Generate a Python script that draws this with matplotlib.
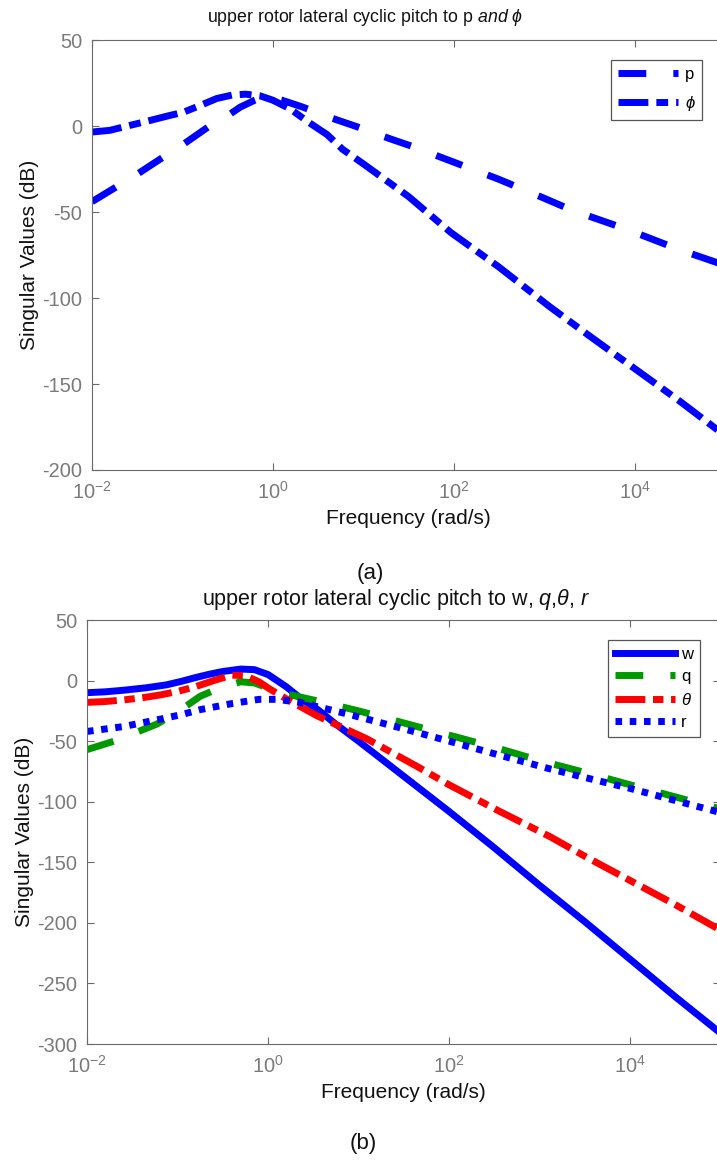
import matplotlib
matplotlib.use('Agg')
import matplotlib.pyplot as plt
import numpy as np

plt.rcParams['font.family'] = ['Liberation Sans', 'DejaVu Sans']
plt.rcParams['mathtext.fontset'] = 'custom'
plt.rcParams['mathtext.rm'] = 'Liberation Sans'
plt.rcParams['mathtext.it'] = 'Liberation Sans:italic'
plt.rcParams['mathtext.bf'] = 'Liberation Sans:bold'
plt.rcParams['axes.unicode_minus'] = False

# ---------------- data (log10 of frequency in rad/s, singular values in dB)
p_exp = [-2.0, -1.75, -1.5, -1.21, -1.0, -0.7, -0.5, -0.36, -0.2, -0.1, 0.0, 0.1, 0.33,
         0.6, 0.94, 1.3, 1.55, 2.0, 2.5, 3.0, 3.31, 3.91, 4.5, 5.0]
p_db = [-44, -36, -28, -18, -11, 0, 6, 11, 15, 17, 16, 15, 11,
        5.5, -0.6, -7.5, -12, -21, -31, -42, -49, -60, -72, -81]

phi_exp = [-2.0, -1.8, -1.61, -1.45, -1.3, -1.15, -0.99, -0.8, -0.62, -0.45, -0.3, -0.14, 0.0,
           0.19, 0.4, 0.6, 0.77, 1.0, 1.5, 1.97, 2.5, 3.06, 3.5, 4.0, 4.5, 5.0]
phi_db = [-3.5, -2.5, 0, 2, 4, 6, 8, 12, 16, 18, 18.5, 17.5, 15,
          10, 2, -5, -13.5, -22, -41, -62, -82, -105, -122, -141, -160, -180]

w_exp = [-2.0, -1.8, -1.6, -1.35, -1.12, -0.95, -0.8, -0.65, -0.5, -0.3, -0.15, 0.0, 0.2,
         0.35, 0.55, 0.75, 1.0, 1.5, 2.0, 2.5, 3.0, 3.5, 4.0, 4.5, 5.0]
w_db = [-10, -9.3, -8, -6, -3.5, -0.5, 2.5, 5.2, 7.5, 9.5, 9, 5, -5,
        -14, -24, -36, -50, -79, -108, -138, -169, -199, -230, -261, -291]

q_exp = [-2.0, -1.7, -1.23, -1.0, -0.75, -0.5, -0.3, -0.15, 0.0, 0.2, 0.5, 1.0,
         1.5, 2.0, 2.5, 3.0, 3.56, 4.0, 4.5, 5.0]
q_db = [-57, -50, -36, -26, -13, -5, -1, -2, -6, -11, -16, -25,
        -35, -45, -55, -66, -77, -86, -96, -106]

theta_exp = [-2.0, -1.8, -1.6, -1.4, -1.2, -1.0, -0.8, -0.6, -0.4, -0.25, -0.1, 0.02, 0.2,
             0.54, 1.09, 1.65, 2.0, 2.56, 3.12, 3.5, 4.0, 4.5, 5.0]
theta_db = [-18, -17.3, -16, -14.3, -12, -9, -5, 0, 4.5, 4, -1, -7, -15,
            -29, -48, -71, -86, -108, -129, -145, -165, -185, -206]

r_exp = [-2.0, -1.6, -1.2, -0.95, -0.75, -0.4, -0.1, 0.1, 0.35, 0.9, 1.46, 2.0, 2.53,
         3.12, 3.5, 4.0, 4.5, 5.0]
r_db = [-42, -38, -32, -28, -24, -19, -15.5, -15.5, -18, -28, -39, -50, -61,
        -73, -80, -89, -99, -109]

x_ticks = [1e-2, 1e0, 1e2, 1e4]
top_yticks = [50, 0, -50, -100, -150, -200]
bot_yticks = [50, 0, -50, -100, -150, -200, -250, -300]

top_title = r'upper rotor lateral cyclic pitch to p $\mathit{and}$ $\phi$'
bot_title = r'upper rotor lateral cyclic pitch to w, $q$,$\theta$, $r$'

# ---------------- figure
W, H = 717, 1165
fig = plt.figure(figsize=(W / 100, H / 100), dpi=100)

AX_COL = '#6a6a6a'
LBL_COL = '#7a7a7a'
LW = 5.0

def style_axes(ax, yticks, ylim):
    ax.set_xscale('log')
    ax.set_xlim(1e-2, 1e5)
    ax.set_ylim(*ylim)
    ax.set_xticks(x_ticks)
    ax.xaxis.set_minor_locator(matplotlib.ticker.NullLocator())
    ax.set_yticks(yticks)
    for s in ax.spines.values():
        s.set_color(AX_COL)
        s.set_linewidth(0.8)
    ax.tick_params(axis='both', which='major', direction='in', length=5, width=0.8,
                   color=AX_COL, labelcolor=LBL_COL, labelsize=14.4,
                   top=True, right=True)
    ax.tick_params(axis='y', pad=7)
    ax.tick_params(axis='x', pad=8)
    ax.set_xlabel('Frequency (rad/s)', fontsize=15, color='#111111', labelpad=4)
    ax.set_ylabel('Singular Values (dB)', fontsize=15, color='#111111', labelpad=2)

# top axes
ax1 = fig.add_axes([92 / W, 1 - 470 / H, (725 - 92) / W, 430 / H])
ax1.plot(10 ** np.array(p_exp), p_db, color='blue', lw=LW, dashes=(4.0, 3.9), label='p')
ax1.plot(10 ** np.array(phi_exp), phi_db, color='blue', lw=LW, dashes=(4.3, 1.15, 1.7, 1.15),
         label=r'$\phi$')
style_axes(ax1, top_yticks, (-200, 50))
leg1 = ax1.legend(loc='upper right', bbox_to_anchor=(702 / W, 1 - 60 / H),
                  bbox_transform=fig.transFigure, borderaxespad=0, fontsize=12,
                  handlelength=3.6, handletextpad=0.4, labelspacing=0.75,
                  borderpad=0.4, fancybox=False, framealpha=1)
leg1.get_frame().set_edgecolor('#555555')
leg1.get_frame().set_linewidth(0.9)

# bottom axes
ax2 = fig.add_axes([87 / W, 1 - 1044 / H, (720.5 - 87) / W, 424 / H])
ax2.plot(10 ** np.array(w_exp), w_db, color='blue', lw=LW, label='w')
ax2.plot(10 ** np.array(q_exp), q_db, color='#009a00', lw=LW, dashes=(4.0, 3.9), label='q')
ax2.plot(10 ** np.array(theta_exp), theta_db, color='red', lw=LW,
         dashes=(4.3, 1.1, 1.5, 1.1), label=r'$\theta$')
ax2.plot(10 ** np.array(r_exp), r_db, color='blue', lw=LW, dashes=(0.95, 1.1), label='r')
style_axes(ax2, bot_yticks, (-300, 50))
leg2 = ax2.legend(loc='upper right', bbox_to_anchor=(700 / W, 1 - 640 / H),
                  bbox_transform=fig.transFigure, borderaxespad=0, fontsize=12,
                  handlelength=3.6, handletextpad=0.4, labelspacing=0.45,
                  borderpad=0.4, fancybox=False, framealpha=1)
leg2.get_frame().set_edgecolor('#555555')
leg2.get_frame().set_linewidth(0.9)

# titles and panel labels
fig.text(207 / W, 1 - 17 / H, top_title, ha='left', va='center', fontsize=12.8, color='#111111')
fig.text(202 / W, 1 - 599 / H, bot_title, ha='left', va='center', fontsize=15.5, color='#111111')
fig.text(370 / W, 1 - 573 / H, '(a)', ha='center', va='center', fontsize=16, color='#111111')
fig.text(363 / W, 1 - 1143 / H, '(b)', ha='center', va='center', fontsize=16, color='#111111')

fig.savefig('out.png', dpi=100)
